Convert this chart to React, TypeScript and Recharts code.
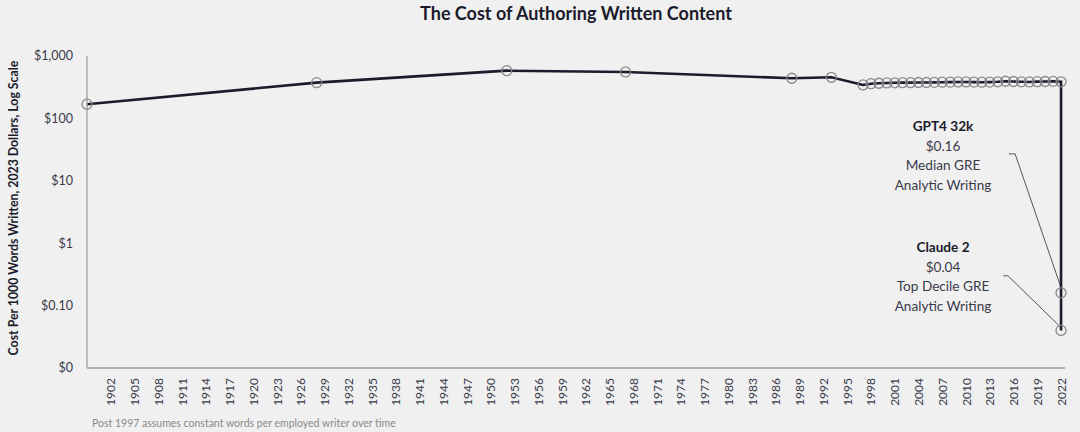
import React from 'react';
import { LineChart, Line, XAxis, YAxis, ReferenceLine } from 'recharts';

const humanYears = [1899, 1928, 1952, 1967, 1988, 1993, 1997, 1998, 1999, 2000, 2001, 2002, 2003, 2004, 2005, 2006, 2007, 2008, 2009, 2010, 2011, 2012, 2013, 2014, 2015, 2016, 2017, 2018, 2019, 2020, 2021, 2022];
const humanCost = [169, 374, 582, 555, 440, 456, 344, 360, 366, 370, 372, 374, 374, 376, 376, 378, 380, 382, 384, 384, 382, 380, 382, 386, 394, 390, 386, 384, 388, 390, 392, 386];
const aiYears = [2022, 2022];
const aiCost = [0.16, 0.04];
const xTicks = [1902, 1905, 1908, 1911, 1914, 1917, 1920, 1923, 1926, 1929, 1932, 1935, 1938, 1941, 1944, 1947, 1950, 1953, 1956, 1959, 1962, 1965, 1968, 1971, 1974, 1977, 1980, 1983, 1986, 1989, 1992, 1995, 1998, 2001, 2004, 2007, 2010, 2013, 2016, 2019, 2022];
const yTicks = [0.01, 0.1, 1, 10, 100, 1000];
const yTickLabels = ['$0', '$0.10', '$1', '$10', '$100', '$1,000'];

const gptLeader = [
  { x: 2015.4, y: 27 },
  { x: 2016.2, y: 27 },
  { x: 2022, y: 0.194 },
];
const claudeLeader = [
  { x: 2014.7, y: 0.3 },
  { x: 2015.3, y: 0.3 },
  { x: 2022, y: 0.0445 },
];

const data = [
  ...humanYears.map((year, i) => ({ year, cost: humanCost[i] })),
  ...aiYears.map((year, i) => ({ year, cost: aiCost[i] })),
];

const FONT = 'Lato, "Open Sans", sans-serif';
const TEXT = '#3a3a4a';
const DARK = '#1b1b2c';

const XTick = (props: any) => {
  const { x, y, payload } = props;
  return (
    <text
      x={x}
      y={y}
      transform={`rotate(-90 ${x} ${y})`}
      textAnchor="end"
      dominantBaseline="central"
      fontSize={12}
      fontFamily={FONT}
      fill={TEXT}
    >
      {payload.value}
    </text>
  );
};

const fmtY = (v: number) => {
  const idx = yTicks.findIndex((t) => Math.abs(t - v) < t * 1e-6);
  return idx >= 0 ? yTickLabels[idx] : String(v);
};

const segs = (pts: { x: number; y: number }[]) =>
  pts.slice(0, -1).map((p, i) => [p, pts[i + 1]]);

export default function App() {
  return (
    <div
      style={{
        position: 'absolute',
        left: 0,
        top: 0,
        width: 1080,
        height: 432,
        background: '#f0f0f0',
        fontFamily: FONT,
        overflow: 'hidden',
      }}
    >
      <LineChart
        width={1080}
        height={432}
        data={data}
        margin={{ top: 56, right: 15, bottom: 0, left: 37 }}
      >
        <XAxis
          type="number"
          dataKey="year"
          domain={[1899, 2022.5]}
          ticks={xTicks}
          interval={0}
          height={64}
          tickLine={false}
          tickSize={6}
          tickMargin={4}
          axisLine={{ stroke: '#a0a0a0', strokeWidth: 1.3 }}
          tick={<XTick />}
        />
        <YAxis
          scale="log"
          domain={[0.01, 1000]}
          ticks={yTicks}
          interval={0}
          width={50}
          tickLine={false}
          tickSize={6}
          tickMargin={8}
          axisLine={{ stroke: '#a0a0a0', strokeWidth: 1.3 }}
          tickFormatter={fmtY}
          tick={{ fontSize: 12.5, fill: TEXT, fontFamily: FONT }}
        />
        {segs(gptLeader).map((s, i) => (
          <ReferenceLine key={'g' + i} segment={s as any} stroke="#555" strokeWidth={1} ifOverflow="visible" />
        ))}
        {segs(claudeLeader).map((s, i) => (
          <ReferenceLine key={'c' + i} segment={s as any} stroke="#555" strokeWidth={1} ifOverflow="visible" />
        ))}
        <Line
          type="linear"
          dataKey="cost"
          stroke={DARK}
          strokeWidth={2.6}
          dot={{ r: 5, stroke: '#8a8a8a', strokeWidth: 1.3, fill: 'none' }}
          activeDot={false}
          isAnimationActive={false}
        />
      </LineChart>

      <div
        style={{
          position: 'absolute',
          left: 0,
          width: 1152,
          top: 2,
          textAlign: 'center',
          fontSize: 18,
          fontWeight: 700,
          color: DARK,
          lineHeight: '22px',
        }}
      >
        The Cost of Authoring Written Content
      </div>

      <div
        style={{
          position: 'absolute',
          left: 13,
          top: 208,
          transform: 'translate(-50%, -50%) rotate(-90deg)',
          whiteSpace: 'nowrap',
          fontSize: 12.3,
          fontWeight: 700,
          color: DARK,
        }}
      >
        Cost Per 1000 Words Written, 2023 Dollars, Log Scale
      </div>

      <div
        style={{
          position: 'absolute',
          left: 863,
          width: 160,
          top: 117,
          textAlign: 'center',
          fontSize: 13.6,
          lineHeight: '19.5px',
          color: TEXT,
        }}
      >
        <div style={{ fontWeight: 700, color: DARK }}>GPT4 32k</div>
        <div>$0.16</div>
        <div>Median GRE</div>
        <div>Analytic Writing</div>
      </div>

      <div
        style={{
          position: 'absolute',
          left: 863,
          width: 160,
          top: 238,
          textAlign: 'center',
          fontSize: 13.6,
          lineHeight: '19.5px',
          color: TEXT,
        }}
      >
        <div style={{ fontWeight: 700, color: DARK }}>Claude 2</div>
        <div>$0.04</div>
        <div>Top Decile GRE</div>
        <div>Analytic Writing</div>
      </div>

      <div
        style={{
          position: 'absolute',
          left: 92,
          top: 417,
          fontSize: 10.5,
          color: '#8a8a8a',
          whiteSpace: 'nowrap',
        }}
      >
        Post 1997 assumes constant words per employed writer over time
      </div>
    </div>
  );
}
